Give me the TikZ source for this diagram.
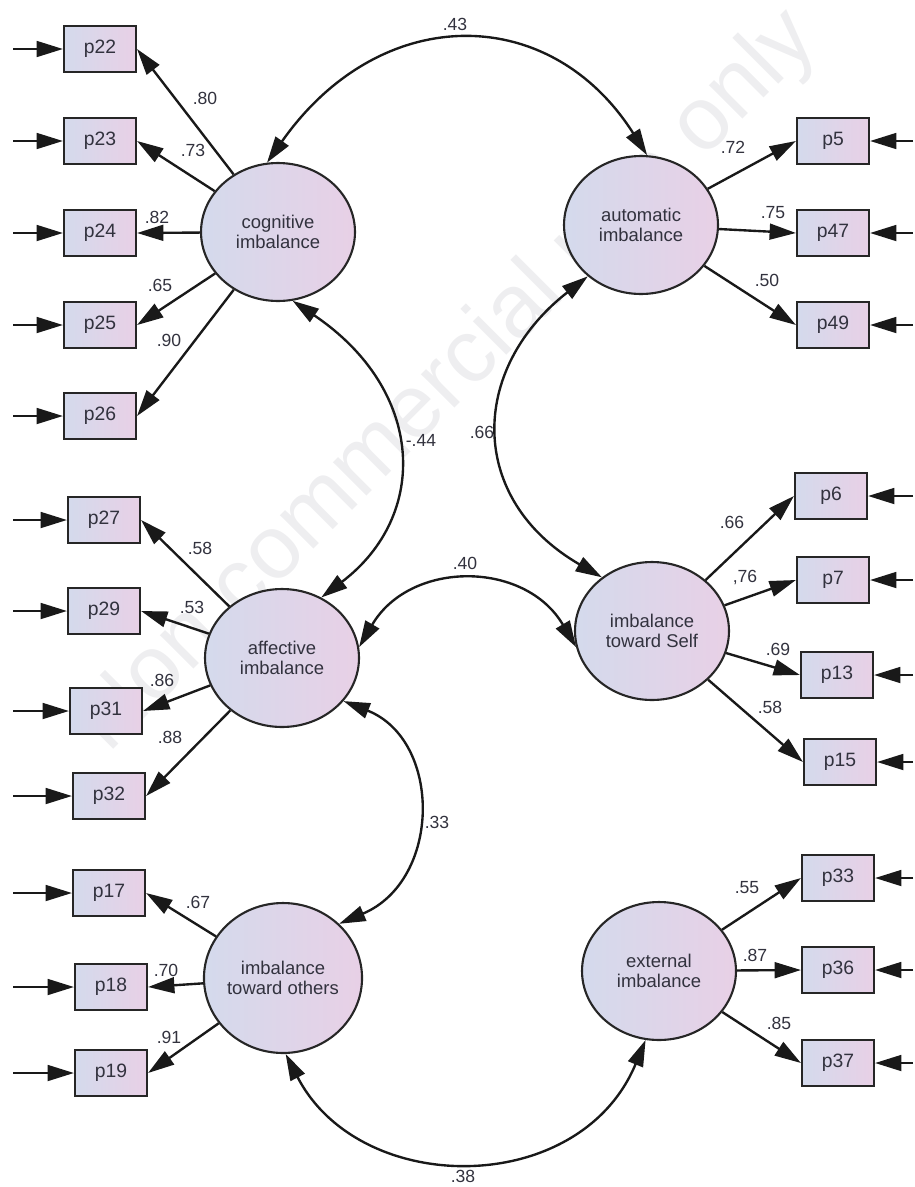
\documentclass[tikz,border=0pt]{standalone}
\usepackage{fontspec}
\setmainfont{Liberation Sans}
\usepackage{tikz}
\usetikzlibrary{arrows.meta,shapes.geometric}

\definecolor{boxleft}{RGB}{212,218,236}
\definecolor{boxright}{RGB}{232,208,230}
\definecolor{inkgray}{RGB}{50,50,62}
\definecolor{wmgray}{RGB}{238,238,240}

\tikzset{
  item/.style={draw=black!85, line width=1.2pt, left color=boxleft, right color=boxright,
    minimum width=1.44cm, minimum height=0.92cm, inner sep=0pt,
    font=\fontsize{11}{12}\selectfont, text=inkgray},
  factor/.style={ellipse, draw=black!85, line width=1.2pt, left color=boxleft, right color=boxright,
    minimum width=3.08cm, minimum height=2.76cm, inner sep=0pt, align=center,
    font=\fontsize{10.5}{11.5}\selectfont, text=inkgray},
  coef/.style={font=\fontsize{10}{12}\selectfont, text=inkgray, inner sep=0pt},
  loading/.style={draw=black!90, line width=1.35pt, -{Triangle[length=15pt,width=9pt]}},
  covline/.style={draw=black!90, line width=1.35pt,
    {Triangle[length=15pt,width=9pt]}-{Triangle[length=15pt,width=9pt]}}
}

\begin{document}
\begin{tikzpicture}[x=0.02cm, y=-0.02cm]
    \useasboundingbox (0,0) rectangle (915,1187);

    % Watermark
    \node[rotate=45, text=wmgray, font=\fontsize{51}{51}\selectfont] (mark) at (448,382) {Non commercial use only};

    % Latent factors
    \node[factor] (cog) at (278,232) {cognitive\\imbalance};
    \node[factor] (auto) at (641,225) {automatic\\imbalance};
    \node[factor] (aff) at (282,658) {affective\\imbalance};
    \node[factor] (self) at (652,631) {imbalance\\toward Self};
    \node[factor, minimum width=3.04cm, minimum height=3.0cm] (oth) at (283,978) {imbalance\\toward others};
    \node[factor] (ext) at (659,971) {external\\imbalance};

    % Observed items
    \foreach \name/\x/\y in {p22/100/49, p23/100/141, p24/100/233, p25/100/325, p26/100/416,
      p27/104/520, p29/104/611, p31/106/711, p32/109/796,
      p17/109/893, p18/111/987, p19/111/1073,
      p5/833/141, p47/833/233, p49/833/325,
      p6/831/496, p7/833/580, p13/837/675, p15/840/762,
      p33/838/878, p36/838/970, p37/838/1063}
    {
        \node[item] (\name) at (\x,\y) {\name};
    }

    % Error terms coming in from the edges
    \coordinate (edgeL) at (13,0);
    \coordinate (edgeR) at (913,0);
    \foreach \name in {p22,p23,p24,p25,p26,p27,p29,p31,p32,p17,p18,p19}
    {
        \draw[loading] (edgeL |- \name.west) -- (\name.west);
    }
    \foreach \name in {p5,p47,p49,p6,p7,p13,p15,p33,p36,p37}
    {
        \draw[loading] (edgeR |- \name.east) -- (\name.east);
    }

    % Loadings, left side
    \foreach \f/\name/\val/\lx/\ly in {cog/p22/.80/205/98, cog/p23/.73/193/150, cog/p24/.82/157/217,
      cog/p25/.65/160/285, cog/p26/.90/169/340,
      aff/p27/.58/200/548, aff/p29/.53/192/607, aff/p31/.86/162/680, aff/p32/.88/170/737,
      oth/p17/.67/198/902, oth/p18/.70/166/970, oth/p19/.91/169/1037}
    {
        \draw[loading] (\f) -- (\name.east);
        \node[coef] (v\name) at (\lx,\ly) {\val};
    }

    % Loadings, right side
    \foreach \f/\name/\val/\lx/\ly in {auto/p5/.72/733/147, auto/p47/.75/773/213, auto/p49/.50/767/280,
      self/p6/.66/732/522, self/p7/{,76}/745/577, self/p13/.69/778/649, self/p15/.58/770/707,
      ext/p33/.55/747/888, ext/p36/.87/755/955, ext/p37/.85/779/1023}
    {
        \draw[loading] (\f) -- (\name.west);
        \node[coef] (v\name) at (\lx,\ly) {\val};
    }

    % Covariances
    \draw[covline] (cog.99) .. controls (380,2) and (550,2) .. (auto.85);
    \node[coef] (rCogAuto) at (455,24) {.43};

    \draw[covline] (cog.282) .. controls (425,390) and (430,515) .. (aff.57);
    \node[coef] (rCogAff) at (421,440) {-.44};

    \draw[covline] (auto.224) .. controls (468,370) and (468,500) .. (self.133);
    \node[coef] (rAutoSelf) at (482,432) {.66};

    \draw[covline] (aff.8) .. controls (410,560) and (525,560) .. (self.192);
    \node[coef] (rAffSelf) at (465,563) {.40};

    \draw[covline] (aff.325) .. controls (442,740) and (442,880) .. (oth.44);
    \node[coef] (rAffOth) at (437,822) {.33};

    \draw[covline] (oth.272) .. controls (360,1198) and (580,1198) .. (ext.259);
    \node[coef] (rOthExt) at (463,1176) {.38};
\end{tikzpicture}
\end{document}
